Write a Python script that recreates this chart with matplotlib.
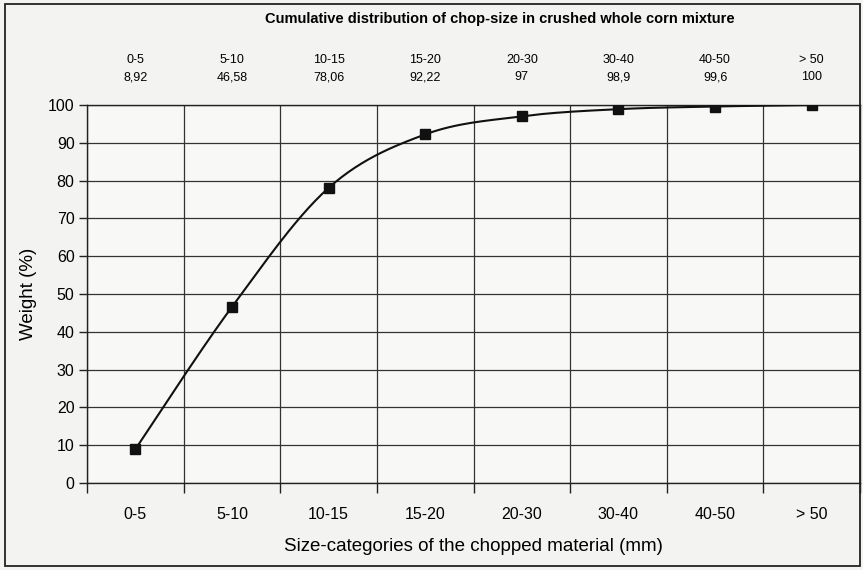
import numpy as np
import matplotlib
matplotlib.use("Agg")
import matplotlib.pyplot as plt
from matplotlib.patches import Rectangle
from matplotlib.transforms import blended_transform_factory

categories = ["0-5", "5-10", "10-15", "15-20", "20-30", "30-40", "40-50", "> 50"]
values = [8.92, 46.58, 78.06, 92.22, 97, 98.9, 99.6, 100]
value_labels = ["8,92", "46,58", "78,06", "92,22", "97", "98,9", "99,6", "100"]
yticks = [0, 10, 20, 30, 40, 50, 60, 70, 80, 90, 100]

plt.rcParams['font.family'] = ['Liberation Sans', 'DejaVu Sans']

fig = plt.figure(figsize=(8.63, 5.70), dpi=100)
fig.patch.set_facecolor('#f3f3f1')
fig.add_artist(Rectangle((5/863, 4/570), 855/863, 562/570, transform=fig.transFigure,
                         fill=False, edgecolor='#222222', linewidth=1.3))

ax = fig.add_axes([87/863, 1 - 483/570, 773/863, 378/570])
ax.set_facecolor('#f8f8f6')

n = len(categories)
xc = np.arange(n) + 0.5
y = np.array(values, dtype=float)

# Catmull-Rom (Excel-style smoothed line)
P = np.column_stack([xc, y])
Pext = np.vstack([P[0], P, P[-1]])
curve = []
t = np.linspace(0, 1, 30)
for i in range(1, len(Pext) - 2):
    p0, p1, p2, p3 = Pext[i - 1], Pext[i], Pext[i + 1], Pext[i + 2]
    c1 = p1 + (p2 - p0) / 6
    c2 = p2 - (p3 - p1) / 6
    b = ((1 - t) ** 3)[:, None] * p1 + (3 * (1 - t) ** 2 * t)[:, None] * c1 + \
        (3 * (1 - t) * t ** 2)[:, None] * c2 + (t ** 3)[:, None] * p2
    curve.append(b)
curve = np.vstack(curve)

ax.set_xlim(0, n)
ax.set_ylim(0, 100)
ax.set_xticks(np.arange(n + 1))
ax.set_xticklabels([])
ax.set_xticks(xc, minor=True)
ax.set_xticklabels(categories, minor=True, fontsize=11.5)
ax.tick_params(axis='x', which='minor', length=0, pad=17)
ax.tick_params(axis='x', which='major', length=7, width=1, direction='out', color='#222222')
ax.set_yticks(yticks)
ax.set_yticklabels([str(v) for v in yticks], fontsize=11.5)
ax.tick_params(axis='y', length=6, width=1, direction='out', color='#222222', pad=3)
ax.grid(True, which='major', color='#333333', linewidth=0.9)
ax.set_axisbelow(True)
for s in ax.spines.values():
    s.set_color('#222222')
    s.set_linewidth(1.0)

ax.plot(curve[:, 0], curve[:, 1], color='#111111', linewidth=1.5, zorder=3)
ax.plot(xc, y, linestyle='none', marker='s', markersize=6.5, color='#111111', zorder=4)

ax.set_xlabel("Size-categories of the chopped material (mm)", fontsize=13.5, labelpad=12)
ax.set_ylabel("Weight (%)", fontsize=13.5, labelpad=8)

tr = blended_transform_factory(ax.transData, fig.transFigure)
for xi, c, v in zip(xc, categories, value_labels):
    fig.text(xi, 1 - 60/570, c, transform=tr, ha='center', va='center', fontsize=9)
    fig.text(xi, 1 - 77/570, v, transform=tr, ha='center', va='center', fontsize=9)

fig.text(500/863, 1 - 19/570, "Cumulative distribution of chop-size in crushed whole corn mixture",
         ha='center', va='center', fontsize=10.5, fontweight='bold')

fig.savefig("out.png", dpi=100, facecolor=fig.get_facecolor())
